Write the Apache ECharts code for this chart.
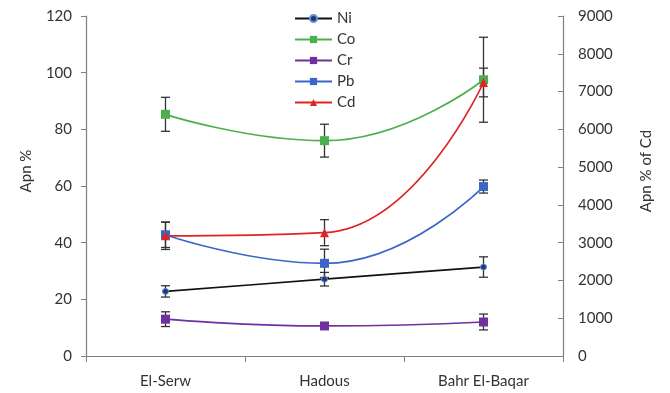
<!DOCTYPE html>
<html>
<head>
<meta charset="utf-8">
<script src="https://cdn.jsdelivr.net/npm/echarts@6/dist/echarts.min.js"></script>
<style>
  html, body { margin: 0; padding: 0; background: #fff; }
  #chart { width: 670px; height: 393px; }
</style>
</head>
<body>
<div id="chart"></div>
<script>
// sites on the x axis
var sites = ['El-Serw', 'Hadous', 'Bahr El-Baqar']

// Apn % (left axis) and their error bars
var ni = [22.8, 27.1, 31.4]
var niErr = [2, 2.4, 3.6]
var co = [85.3, 76.0, 97.5]
var coErr = [6, 5.8, 15]
var cr = [13.0, 10.6, 12.0]
var crErr = [2.6, 1, 2.8]
var pb = [42.8, 32.7, 59.8]
var pbErr = [4.5, 5, 2.3]

// Apn % of Cd (right axis)
var cd = [3180, 3265, 7240]
var cdErr = [360, 345, 380]

var leftTicks = { min: 0, max: 120, interval: 20 }
var rightTicks = { min: 0, max: 9000, interval: 1000 }

var font = 'Lato, "Open Sans", sans-serif'
var axisColor = '#7f7f7f'
var textColor = '#333'

var myChart = echarts.init(document.getElementById('chart'))

// error bar drawing (vertical line + caps)
function errorBars(name, values, errs, yIndex) {
  var data = values.map(function (v, i) { return [i, v, errs[i]] })
  return {
    name: name + ' err',
    type: 'custom',
    yAxisIndex: yIndex,
    z: 1,
    silent: true,
    renderItem: function (params, api) {
      var x = api.value(0)
      var v = api.value(1)
      var e = api.value(2)
      var top = api.coord([x, v + e])
      var bot = api.coord([x, v - e])
      var w = 4.5
      var style = { stroke: '#333', lineWidth: 1.3 }
      return {
        type: 'group',
        children: [
          { type: 'line', shape: { x1: top[0], y1: top[1], x2: bot[0], y2: bot[1] }, style: style },
          { type: 'line', shape: { x1: top[0] - w, y1: top[1], x2: top[0] + w, y2: top[1] }, style: style },
          { type: 'line', shape: { x1: bot[0] - w, y1: bot[1], x2: bot[0] + w, y2: bot[1] }, style: style }
        ]
      }
    },
    data: data
  }
}

function lineSeries(name, values, color, symbol, size, yIndex, smooth, itemStyle) {
  return {
    name: name,
    type: 'line',
    yAxisIndex: yIndex,
    data: values,
    smooth: smooth,
    symbol: symbol,
    symbolSize: size,
    z: 3,
    lineStyle: { color: color, width: 1.7 },
    itemStyle: itemStyle || { color: color }
  }
}

var option = {
  animation: false,
  textStyle: { fontFamily: font },
  grid: { left: 86, right: 107, top: 16, bottom: 37 },
  legend: {
    orient: 'vertical',
    left: 289,
    top: 6,
    itemWidth: 37,
    itemHeight: 9,
    itemGap: 6,
    textStyle: { fontSize: 15, color: textColor, fontFamily: font, lineHeight: 15 },
    data: ['Ni', 'Co', 'Cr', 'Pb', 'Cd']
  },
  xAxis: {
    type: 'category',
    data: sites,
    boundaryGap: true,
    axisLine: { lineStyle: { color: axisColor, width: 1.2 } },
    axisTick: { show: true, length: 6, lineStyle: { color: axisColor } },
    axisLabel: { color: textColor, fontSize: 15, margin: 18, fontFamily: font }
  },
  yAxis: [
    {
      type: 'value',
      min: leftTicks.min,
      max: leftTicks.max,
      interval: leftTicks.interval,
      name: 'Apn %',
      nameLocation: 'middle',
      nameGap: 52,
      nameTextStyle: { fontSize: 15, color: textColor, fontFamily: font, padding: [0, 0, 0, 30] },
      axisLine: { show: true, lineStyle: { color: axisColor, width: 1.2 } },
      axisTick: { show: true, length: 5, lineStyle: { color: axisColor } },
      axisLabel: { color: textColor, fontSize: 15, margin: 14, fontFamily: font },
      splitLine: { show: false }
    },
    {
      type: 'value',
      min: rightTicks.min,
      max: rightTicks.max,
      interval: rightTicks.interval,
      name: 'Apn % of Cd',
      nameLocation: 'middle',
      nameGap: 76,
      nameRotate: 90,
      nameTextStyle: { fontSize: 15, color: textColor, fontFamily: font, padding: [0, 0, 0, 30] },
      axisLine: { show: true, lineStyle: { color: axisColor, width: 1.2 } },
      axisTick: { show: true, length: 5, inside: true, lineStyle: { color: axisColor } },
      axisLabel: {
        color: textColor,
        fontSize: 15,
        margin: 15,
        fontFamily: font,
        formatter: function (v) { return String(v) }
      },
      splitLine: { show: false }
    }
  ],
  series: [
    errorBars('Ni', ni, niErr, 0),
    errorBars('Co', co, coErr, 0),
    errorBars('Cr', cr, crErr, 0),
    errorBars('Pb', pb, pbErr, 0),
    errorBars('Cd', cd, cdErr, 1),
    lineSeries('Ni', ni, '#111111', 'circle', 6, 0, 0.3, { color: '#1f3a7a', borderColor: '#6b8fd6', borderWidth: 1 }),
    lineSeries('Co', co, '#4caf4f', 'rect', 9, 0, 0.5),
    lineSeries('Cr', cr, '#7030a0', 'rect', 9, 0, 0.5),
    lineSeries('Pb', pb, '#3b66c6', 'rect', 9, 0, 0.5),
    lineSeries('Cd', cd, '#e02424', 'triangle', 9, 1, 0.5)
  ]
}

myChart.setOption(option)
window.onresize = function () {
  myChart.resize()
}
</script>
</body>
</html>
